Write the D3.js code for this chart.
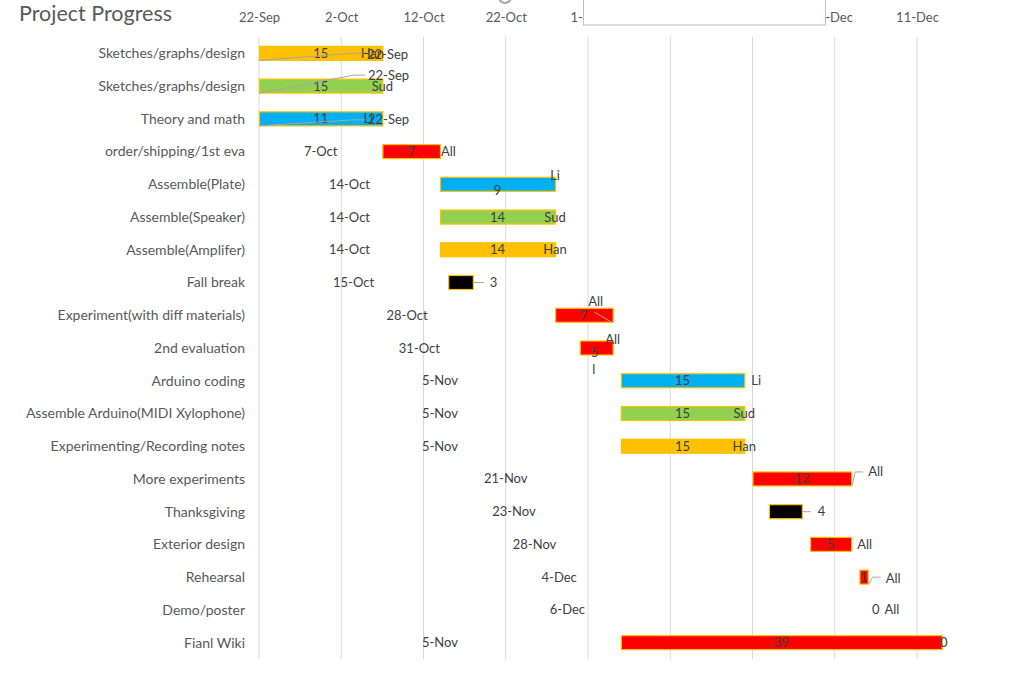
<!DOCTYPE html>
<html>
<head>
<meta charset="utf-8">
<script src="https://cdn.jsdelivr.net/npm/d3@7"></script>
<style>
  body { margin: 0; background: #fff; }
  svg { display: block; font-family: Lato, "Open Sans", sans-serif; }
</style>
</head>
<body>
<svg id="chart" width="1023" height="684"></svg>
<script>
// chart data
const tasks = [
  'Sketches/graphs/design', 'Sketches/graphs/design', 'Theory and math',
  'order/shipping/1st eva', 'Assemble(Plate)', 'Assemble(Speaker)',
  'Assemble(Amplifer)', 'Fall break', 'Experiment(with diff materials)',
  '2nd evaluation', 'Arduino coding', 'Assemble Arduino(MIDI Xylophone)',
  'Experimenting/Recording notes', 'More experiments', 'Thanksgiving',
  'Exterior design', 'Rehearsal', 'Demo/poster', 'Fianl Wiki'
];
const startDates = [
  '2019-09-22', '2019-09-22', '2019-09-22', '2019-10-07', '2019-10-14',
  '2019-10-14', '2019-10-14', '2019-10-15', '2019-10-28', '2019-10-31',
  '2019-11-05', '2019-11-05', '2019-11-05', '2019-11-21', '2019-11-23',
  '2019-11-28', '2019-12-04', '2019-12-06', '2019-11-05'
];
const barDays = [15, 15, 15, 7, 14, 14, 14, 3, 7, 4, 15, 15, 15, 12, 4, 5, 1, 0, 39];
const durationLabels = ['15', '15', '11', '7', '9', '14', '14', '3', '7', '5',
  '15', '15', '15', '12', '4', '5', '1', '0', '39'];
const owners = ['Han', 'Sud', 'Li', 'All', 'Li', 'Sud', 'Han', '', 'All', 'All',
  'Li', 'Sud', 'Han', 'All', '', 'All', 'All', 'All', '0'];
const teams = ['Han', 'Sud', 'Li', 'All', 'Li', 'Sud', 'Han', 'Break', 'All', 'All',
  'Li', 'Sud', 'Han', 'All', 'Break', 'All', 'All', 'All', 'All'];
const tickDates = ['2019-09-22', '2019-10-02', '2019-10-12', '2019-10-22', '2019-11-01',
  '2019-11-11', '2019-11-21', '2019-12-01', '2019-12-11'];
const teamNames = ['Han', 'Sud', 'Li', 'All', 'Break'];

const parse = d3.utcParse('%Y-%m-%d');
const fmt = d3.utcFormat('%-d-%b');

const rows = tasks.map((t, i) => ({
  i, task: t,
  start: parse(startDates[i]),
  end: d3.utcDay.offset(parse(startDates[i]), barDays[i]),
  dur: durationLabels[i],
  owner: owners[i],
  team: teams[i]
}));

const svg = d3.select('#chart');
const TEXT = '#404040';
const GREY = '#595959';

const x = d3.scaleUtc()
  .domain([parse(tickDates[0]), parse(tickDates[tickDates.length - 1])])
  .range([259, 917]);
const y = d3.scaleBand().domain(d3.range(tasks.length)).range([37, 659]);
const color = d3.scaleOrdinal()
  .domain(teamNames)
  .range(['#FFC000', '#92D050', '#00B0F0', '#FF0000', '#000000']);

const barH = 14;
const yc = i => y(i) + y.bandwidth() / 2;

// title
svg.append('text')
  .attr('x', 19).attr('y', 21)
  .attr('font-size', 21.5).attr('fill', GREY)
  .text('Project Progress');

// gridlines + top axis
const ticks = tickDates.map(parse);
svg.append('g').selectAll('line')
  .data(ticks).join('line')
  .attr('x1', d => x(d)).attr('x2', d => x(d))
  .attr('y1', 37).attr('y2', 659)
  .attr('stroke', '#d9d9d9');

const axis = svg.append('g')
  .attr('transform', 'translate(0,17)')
  .call(d3.axisTop(x).tickValues(ticks).tickFormat(fmt).tickSize(0).tickPadding(0));
axis.select('.domain').remove();
axis.selectAll('text')
  .attr('font-size', 13).attr('fill', GREY)
  .attr('font-family', 'Lato, sans-serif')
  .attr('dy', '0.35em');

// category labels
svg.append('g').selectAll('text')
  .data(rows).join('text')
  .attr('x', 245).attr('y', d => yc(d.i))
  .attr('dy', '0.35em').attr('text-anchor', 'end')
  .attr('font-size', 14).attr('fill', GREY)
  .text(d => d.task);

// bars
svg.append('g').selectAll('rect')
  .data(rows.filter(d => barDays[d.i] > 0)).join('rect')
  .attr('x', d => x(d.start) + 0.5)
  .attr('y', d => yc(d.i) - barH / 2)
  .attr('width', d => x(d.end) - x(d.start))
  .attr('height', barH)
  .attr('fill', d => color(d.team))
  .attr('stroke', '#FFC000')
  .attr('stroke-width', 1.2);

// label nudges (layout only), relative to bar ends / row centres
const dateTweak = {
  0: { dx: 108, dy: 1, leader: [[0, 7], [92, 0], [104, 0]] },
  1: { dx: 109, dy: -11, leader: [[0, 7], [95, -11], [106, -11]] },
  2: { dx: 109, dy: 1, leader: [[0, 7], [95, 1], [106, 1]] }
};
const durTweak = {
  4: { dy: 6 },
  7: { out: 17, leader: [[0, 0], [11, 0]] },
  9: { dx: -1.5, dy: 4 },
  14: { out: 16, leader: [[0, 0], [9, 0]] }
};
const ownerTweak = {
  0: { dx: -10 },
  2: { dx: -14 },
  3: { start: 1 },
  4: { dy: -9 },
  8: { dx: -17, dy: -14, leader: [[-18, -3], [-1, 7]] },
  9: { dy: -9 },
  10: { start: 7 },
  13: { start: 17, dy: -7, leader: [[1, 6], [4, -7], [12, -7]] },
  15: { start: 6 },
  16: { start: 18, dy: 1, leader: [[1, 7], [5, 0], [13, 0]] },
  17: { start: 8.5 },
  18: { dx: 2 }
};

const labels = svg.append('g')
  .attr('font-size', 13).attr('fill', TEXT);
const leaders = svg.append('g')
  .attr('fill', 'none').attr('stroke', '#a6a6a6').attr('stroke-width', 1);
const line = d3.line();

// start-date labels, centred in the hidden offset segment
rows.forEach(d => {
  const t = dateTweak[d.i];
  const x0 = x(d.start), cy = yc(d.i);
  if (t) {
    labels.append('text')
      .attr('x', x0 + t.dx).attr('y', cy + t.dy).attr('dy', '0.35em')
      .text(fmt(d.start));
    leaders.append('path')
      .attr('d', line(t.leader.map(p => [x0 + p[0], cy + p[1]])));
  } else {
    labels.append('text')
      .attr('x', (x.range()[0] + x0) / 2).attr('y', cy).attr('dy', '0.35em')
      .attr('text-anchor', 'middle')
      .text(fmt(d.start));
  }
});

// duration labels
rows.forEach(d => {
  const t = durTweak[d.i] || {};
  const x0 = x(d.start), x1 = x(d.end), cy = yc(d.i);
  if (t.out) {
    labels.append('text')
      .attr('x', x1 + t.out).attr('y', cy).attr('dy', '0.35em')
      .text(d.dur);
    leaders.append('path')
      .attr('d', line(t.leader.map(p => [x1 + p[0], cy + p[1]])));
  } else {
    labels.append('text')
      .attr('x', (x0 + x1) / 2 + (t.dx || 0)).attr('y', cy + (t.dy || 0))
      .attr('dy', '0.35em').attr('text-anchor', 'middle')
      .text(d.dur);
  }
});

// owner labels at the bar end
rows.filter(d => d.owner).forEach(d => {
  const t = ownerTweak[d.i] || {};
  const x1 = x(d.end), cy = yc(d.i);
  labels.append('text')
    .attr('x', t.start !== undefined ? x1 + t.start : x1 + (t.dx || 0))
    .attr('y', cy + (t.dy || 0)).attr('dy', '0.35em')
    .attr('text-anchor', t.start !== undefined ? 'start' : 'middle')
    .text(d.owner);
  if (t.leader) {
    leaders.append('path')
      .attr('d', line(t.leader.map(p => [x1 + p[0], cy + p[1]])));
  }
});

// stray fragment of a hidden label under the 2nd evaluation row
labels.append('text')
  .attr('x', x(rows[9].end) - 19).attr('y', (yc(9) + yc(10)) / 2 + 5)
  .attr('dy', '0.35em').attr('text-anchor', 'middle')
  .text('l');

// leftover selection box and handle from the editor
svg.append('rect')
  .attr('x', 583.5).attr('y', -1).attr('width', 242).attr('height', 26)
  .attr('fill', '#fff').attr('stroke', '#bfbfbf');
svg.append('circle')
  .attr('cx', 505).attr('cy', -3).attr('r', 6)
  .attr('fill', 'none').attr('stroke', '#a6a6a6').attr('stroke-width', 2);
</script>
</body>
</html>
